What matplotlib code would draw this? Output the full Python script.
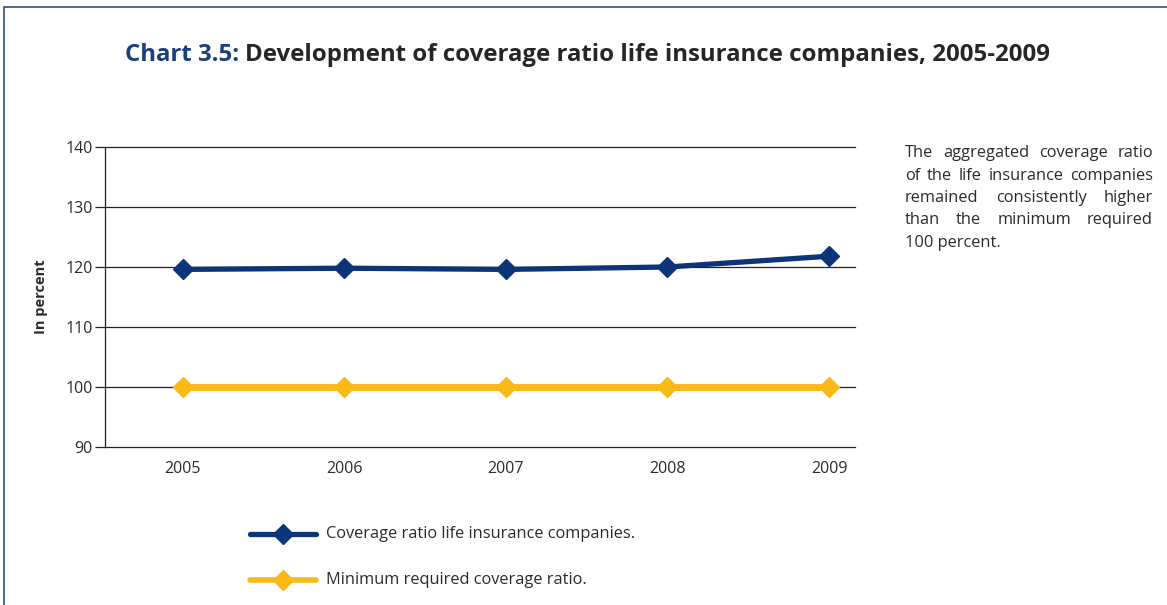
#!/usr/bin/env python3
'''Chart 3.5: coverage ratio of life insurance companies'''
import matplotlib.pyplot as plt
from matplotlib.lines import Line2D
from matplotlib.patches import Rectangle

years = [2005, 2006, 2007, 2008, 2009]
coverage = [119.6, 119.8, 119.6, 120.0, 121.8]
minimum = [100, 100, 100, 100, 100]
y_ticks = [90, 100, 110, 120, 130, 140]
labels = ['Coverage ratio life insurance companies.',
          'Minimum required coverage ratio.']
note_lines = ['The aggregated coverage ratio',
              'of the life insurance companies',
              'remained consistently higher',
              'than the minimum required',
              '100 percent.']

BLUE = '#0c3479'
YELLOW = '#fbb918'
TEXT = '#2b2b2b'

plt.rcParams['font.family'] = ['Open Sans', 'DejaVu Sans']

W, H = 1167, 605
fig = plt.figure(figsize=(W / 100, H / 100), dpi=100)


def fx(px):
    return px / W


def fy(py):
    return 1 - py / H


# frame around the whole chart
fig.patches.append(Rectangle((fx(4), -0.2), 1.2, fy(7) + 0.2, transform=fig.transFigure,
                             fill=False, edgecolor='#3d5d8f', linewidth=1.3))

ax = fig.add_axes([fx(105), fy(447), fx(855) - fx(105), fy(147) - fy(447)])
ax.plot(years, minimum, color=YELLOW, linewidth=5, marker='D', markersize=10,
        solid_capstyle='round', zorder=3)
ax.plot(years, coverage, color=BLUE, linewidth=3.8, marker='D', markersize=10,
        solid_capstyle='round', zorder=4)

ax.set_ylim(90, 140)
ax.set_xlim(2004.52, 2009.16)
ax.set_yticks(y_ticks)
ax.set_xticks(years)
ax.set_xticklabels([str(y) for y in years])
ax.yaxis.grid(True, color='#222222', linewidth=0.9)
for gl in ax.get_ygridlines():
    gl.set_clip_on(False)
ax.set_axisbelow(True)
for s in ['top', 'right', 'bottom']:
    ax.spines[s].set_visible(False)
ax.spines['left'].set_color('#222222')
ax.spines['left'].set_linewidth(0.9)
ax.tick_params(axis='y', length=7, width=0.9, color='#222222', labelsize=11.5,
               labelcolor=TEXT, pad=2)
ax.tick_params(axis='x', length=0, labelsize=11.5, labelcolor=TEXT, pad=10)
ax.set_ylabel('In percent', fontsize=10.5, fontweight='bold', color=TEXT, labelpad=12)

# title
TITLE_SIZE = 17.3
t1 = fig.text(fx(125), fy(55), 'Chart 3.5:', fontsize=TITLE_SIZE, fontweight='bold',
              color='#1b3f7c', va='center', ha='left')
fig.canvas.draw()
bb = t1.get_window_extent()
fig.text(bb.x1 / W + fx(6), fy(55),
         'Development of coverage ratio life insurance companies, 2005-2009',
         fontsize=TITLE_SIZE, fontweight='bold', color='#262626', va='center', ha='left')

# legend drawn by hand below the plot
for i, (lab, col, lw) in enumerate(zip(labels, [BLUE, YELLOW], [3.8, 4.0])):
    yy = fy(534 + 46 * i)
    fig.add_artist(Line2D([fx(250), fx(316)], [yy, yy], color=col, linewidth=lw,
                          solid_capstyle='round', transform=fig.transFigure))
    fig.add_artist(Line2D([fx(283)], [yy], color=col, marker='D', markersize=10,
                          transform=fig.transFigure))
    fig.text(fx(326), yy, lab, fontsize=11.8, color=TEXT, va='center', ha='left')

# justified side note
NOTE_SIZE = 11.8
left_px, right_px = 905, 1153
renderer = fig.canvas.get_renderer()
for i, line in enumerate(note_lines):
    yy = fy(153 + 22.5 * i)
    words = line.split(' ')
    if i == len(note_lines) - 1:
        fig.text(fx(left_px), yy, line, fontsize=NOTE_SIZE, color=TEXT, va='center')
        continue
    objs = [fig.text(0, yy, w, fontsize=NOTE_SIZE, color=TEXT, va='center') for w in words]
    widths = [o.get_window_extent(renderer).width for o in objs]
    gap = (right_px - left_px - sum(widths)) / (len(words) - 1)
    x = left_px
    for o, w in zip(objs, widths):
        o.set_x(fx(x))
        x += w + gap

fig.savefig('out.png', dpi=100)
